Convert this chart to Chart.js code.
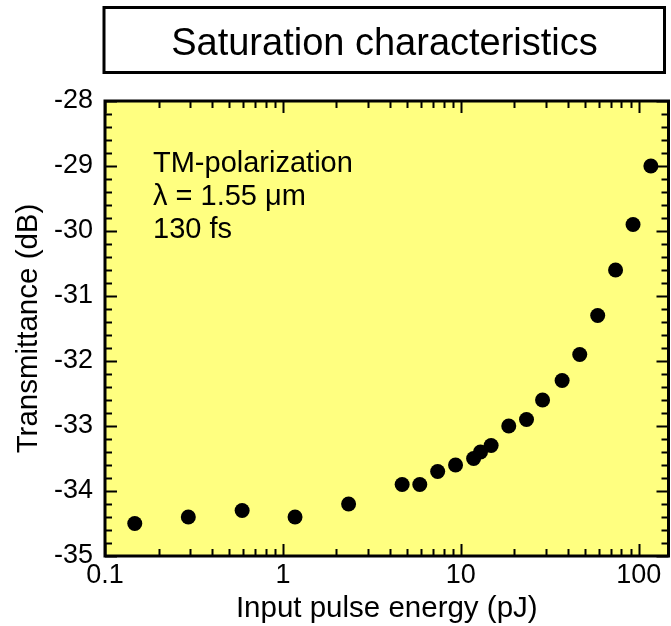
<!DOCTYPE html>
<html>
<head>
<meta charset="utf-8">
<script src="https://cdn.jsdelivr.net/npm/chart.js@4.4.1/dist/chart.umd.min.js"></script>
<style>
  html, body { margin: 0; padding: 0; background: #fff; overflow: hidden; }
  #chart { display: block; }
</style>
</head>
<body>
<canvas id="chart" width="676" height="626"></canvas>
<script>
// input pulse energy (pJ)
const energy = [0.147, 0.294, 0.59, 1.17, 2.34, 4.68, 5.88, 7.41, 9.34, 11.8, 12.9, 14.8,
  18.6, 23.4, 28.8, 37.1, 46.6, 58.8, 74.1, 92.9, 117];
// transmittance (dB)
const transmittance = [-34.5, -34.4, -34.3, -34.4, -34.2, -33.9, -33.9, -33.7, -33.6, -33.5, -33.4, -33.3,
  -33.0, -32.9, -32.6, -32.3, -31.9, -31.3, -30.6, -29.9, -29.0];

const xTicks = [0.1, 1, 10, 100];
const yTicks = [-35, -34, -33, -32, -31, -30, -29, -28];
const noteLines = ["TM-polarization", "\u03bb = 1.55 \u03bcm", "130 fs"];
const chartTitle = "Saturation characteristics";

const FONT = "'Liberation Sans', Arial, Helvetica, sans-serif";

/* === frame, inward ticks, title box and note === */
const framePlugin = {
  id: "frame",
  beforeDatasetsDraw(chart) {
    const { ctx, chartArea: a } = chart;
    ctx.save();
    ctx.fillStyle = "#ffff80";
    ctx.fillRect(a.left, a.top, a.right - a.left, a.bottom - a.top);
    ctx.restore();
  },
  afterDraw(chart) {
    const { ctx, chartArea: a } = chart;
    const xs = chart.scales.x;
    const ys = chart.scales.y;
    ctx.save();
    ctx.strokeStyle = "#000";
    ctx.lineWidth = 2;
    ctx.beginPath();
    // x ticks, bottom and top
    for (let d = 0.1; d < 1000; d *= 10) {
      for (let m = 1; m < 10; m++) {
        const v = d * m;
        if (v < xs.min || v > xs.max) continue;
        const px = Math.round(xs.getPixelForValue(v)) + 0.5;
        const len = m === 1 ? 12 : 7;
        ctx.moveTo(px, a.bottom); ctx.lineTo(px, a.bottom - len);
        ctx.moveTo(px, a.top); ctx.lineTo(px, a.top + len);
      }
    }
    // y ticks, left and right
    for (let i = 0; i <= 35; i++) {
      const v = -35 + i * 0.2;
      const py = Math.round(ys.getPixelForValue(v)) + 0.5;
      const len = i % 5 === 0 ? 12 : 7;
      ctx.moveTo(a.left, py); ctx.lineTo(a.left + len, py);
      ctx.moveTo(a.right, py); ctx.lineTo(a.right - len, py);
    }
    ctx.stroke();
    ctx.lineWidth = 3;
    ctx.strokeRect(a.left, a.top, a.right - a.left, a.bottom - a.top);

    // title box
    ctx.strokeRect(104, 7.5, 560.5, 65);
    ctx.fillStyle = "#000";
    ctx.font = "38px " + FONT;
    ctx.textAlign = "center";
    ctx.textBaseline = "alphabetic";
    ctx.fillText(chartTitle, 384.5, 55);

    // note in upper left
    ctx.font = "29px " + FONT;
    ctx.textAlign = "left";
    noteLines.forEach((t, i) => ctx.fillText(t, 153, 172 + i * 33));
    ctx.restore();
  }
};

const config = {
  type: "scatter",
  data: {
    datasets: [{
      label: "Transmittance",
      data: energy.map((e, i) => ({ x: e, y: transmittance[i] })),
      backgroundColor: "#000",
      borderWidth: 0,
      pointRadius: 7.5,
      pointHoverRadius: 7.5,
      clip: false
    }]
  },
  options: {
    responsive: false,
    animation: false,
    devicePixelRatio: 1,
    layout: { padding: { top: 101, right: 4, left: 0, bottom: 0 } },
    plugins: { legend: { display: false }, tooltip: { enabled: false } },
    scales: {
      x: {
        type: "logarithmic",
        min: 0.1,
        max: 147,
        afterBuildTicks: (s) => { s.ticks = xTicks.map(v => ({ value: v })); },
        afterFit: (s) => { s.height = 70; },
        grid: { display: false, drawTicks: false },
        border: { display: false },
        ticks: {
          color: "#000",
          font: { family: FONT, size: 27 },
          padding: 3,
          maxRotation: 0,
          autoSkip: false,
          callback: (v) => String(v)
        },
        title: {
          display: true,
          text: "Input pulse energy (pJ)",
          color: "#000",
          font: { family: FONT, size: 29.5, lineHeight: 1.1 },
          padding: { top: 0, bottom: 1 }
        }
      },
      y: {
        min: -35,
        max: -28,
        afterBuildTicks: (s) => { s.ticks = yTicks.map(v => ({ value: v })); },
        afterFit: (s) => { s.width = 105; },
        grid: { display: false, drawTicks: false },
        border: { display: false },
        ticks: {
          color: "#000",
          font: { family: FONT, size: 27 },
          padding: 12,
          callback: (v) => String(v)
        },
        title: {
          display: true,
          text: "Transmittance (dB)",
          color: "#000",
          font: { family: FONT, size: 29.5, lineHeight: 1.2 },
          padding: { top: 11, bottom: 0 }
        }
      }
    }
  },
  plugins: [framePlugin]
};

new Chart(document.getElementById("chart"), config);
</script>
</body>
</html>
